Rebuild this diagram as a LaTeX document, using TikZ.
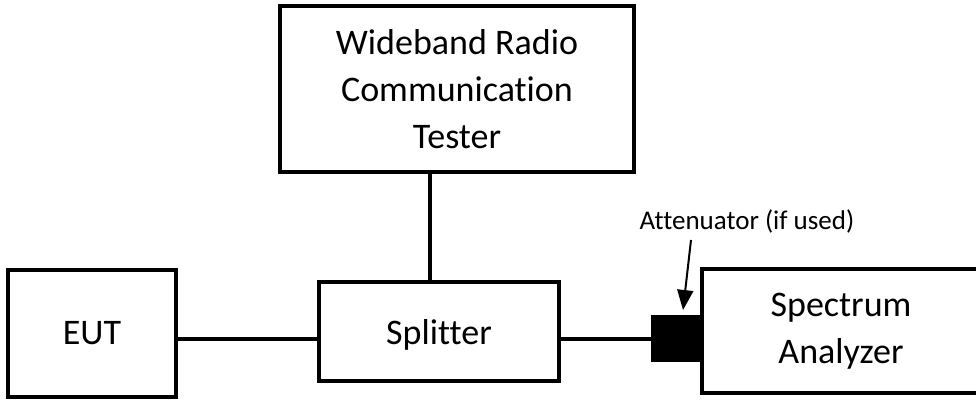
\documentclass[tikz,border=0pt]{standalone}
\usepackage{fontspec}
\setmainfont{Carlito}[Ligatures=NoCommon]
\usetikzlibrary{arrows.meta}

\tikzset{
  device/.style={draw, line width=4.5pt, inner sep=0pt, align=center,
    font=\fontsize{36}{47}\selectfont},
  cable/.style={line width=3.5pt},
  pointer/.style={line width=2pt, -{Triangle[width=16pt,length=20pt]}},
}

\begin{document}
\begin{tikzpicture}[x=1pt, y=-1pt]
      \useasboundingbox (0,0) rectangle (976,399);
      \clip (0,0) rectangle (976,399);
      % Tester:
      %   Wideband radio communication tester on top
      \node[device, minimum width=354pt, minimum height=166pt]
        (tester) at (457,89) {Wideband Radio\\Communication\\Tester};
      % EUT:
      %   Equipment under test, left
      \node[device, minimum width=168pt, minimum height=127pt]
        (eut) at (92,333.5) {EUT};
      % Splitter:
      %   Joins the EUT, the tester and the analyzer
      \node[device, minimum width=240pt, minimum height=99pt, text depth=0pt]
        (split) at (439,331.5) {Splitter};
      % Analyzer:
      %   Spectrum analyzer, runs off the right edge
      \node[device, minimum width=278pt, minimum height=124pt]
        (analyzer) at (841,331) {Spectrum\\Analyzer};
      % Attenuator:
      %   Black block in front of the analyzer
      \node[draw, fill=black, line width=1pt, inner sep=0pt,
        minimum width=51pt, minimum height=46pt]
        (atten) at (676.5,338) {};
      \node[font=\fontsize{27}{32}\selectfont, inner sep=0pt]
        (attlabel) at (747,221) {Attenuator (if used)};

      \coordinate (tap) at (430,0);
      \coordinate (tail) at (691,240);
      \coordinate (tip) at (683,310);

      \draw[cable] (eut.east |- 0,339) -- (split.west |- 0,339);
      \draw[cable] (split.east |- 0,339) -- (atten.west |- 0,339);
      \draw[cable] (tester.south -| tap) -- (split.north -| tap);
      \draw[pointer] (tail) -- (tip);
    \end{tikzpicture}
\end{document}
